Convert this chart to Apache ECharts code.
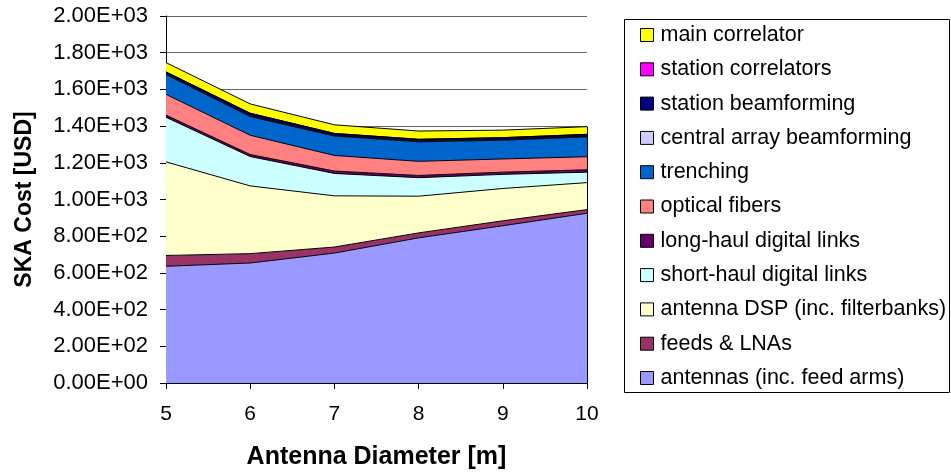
<!DOCTYPE html>
<html>
<head>
<meta charset="utf-8">
<script src="https://cdn.jsdelivr.net/npm/echarts@6.0.0/dist/echarts.min.js"></script>
<style>
  html, body { margin: 0; padding: 0; background: #fff; }
  #main { width: 951px; height: 475px; }
</style>
</head>
<body>
<div id="main"></div>
<script>
// antenna diameter [m]
const diameters = ['5', '6', '7', '8', '9', '10']

// cost components, bottom of the stack first
const antennas = [636, 654, 708, 791, 857, 925]
const feedsLnas = [59, 51, 33, 27, 27, 20]
const antennaDsp = [510, 369, 279, 200, 176, 147]
const shortHaul = [243, 160, 122, 101, 77, 57]
const longHaul = [12, 11, 13, 12, 12, 13]
const opticalFibers = [113, 105, 85, 77, 72, 71]
const trenching = [108, 102, 106, 106, 102, 108]
const centralBeamforming = [3, 3, 3, 3, 3, 3]
const stationBeamforming = [11, 15, 11, 11, 11, 11]
const stationCorrelators = [0, 0, 0, 0, 0, 0]
const mainCorrelator = [51, 51, 47, 45, 41, 42]

const seriesNames = [
  'antennas (inc. feed arms)',
  'feeds & LNAs',
  'antenna DSP (inc. filterbanks)',
  'short-haul digital links',
  'long-haul digital links',
  'optical fibers',
  'trenching',
  'central array beamforming',
  'station beamforming',
  'station correlators',
  'main correlator'
]
const seriesValues = [
  antennas, feedsLnas, antennaDsp, shortHaul, longHaul, opticalFibers,
  trenching, centralBeamforming, stationBeamforming, stationCorrelators, mainCorrelator
]
const seriesColors = [
  '#9999FF', '#993366', '#FFFFCC', '#CCFFFF', '#660066', '#FF8080',
  '#0066CC', '#CCCCFF', '#000080', '#FF00FF', '#FFFF00'
]

const font = 'Liberation Sans, Arial, sans-serif'

// Excel style 2.00E+03
function sci(v) {
  if (v === 0) return '0.00E+00'
  let e = Math.floor(Math.log10(Math.abs(v)))
  let m = v / Math.pow(10, e)
  return m.toFixed(2) + 'E' + (e < 0 ? '-' : '+') + String(Math.abs(e)).padStart(2, '0')
}

// total at the last diameter, for the closing edge of the stack
let last = diameters.length - 1
let lastTotal = 0
seriesValues.forEach(arr => { lastTotal += arr[last] })

let series = seriesNames.map((name, i) => ({
  name: name,
  type: 'line',
  stack: 'cost',
  data: seriesValues[i],
  symbol: 'none',
  showSymbol: false,
  color: seriesColors[i],
  itemStyle: { color: seriesColors[i] },
  lineStyle: { color: '#000', width: 1 },
  areaStyle: { color: seriesColors[i], opacity: 1 },
  emphasis: { disabled: true }
}))

series[series.length - 1].markLine = {
  silent: true,
  symbol: 'none',
  label: { show: false },
  lineStyle: { color: '#000', width: 1, type: 'solid' },
  data: [[{ coord: [diameters[last], 0] }, { coord: [diameters[last], lastTotal] }]]
}

let myChart = echarts.init(document.getElementById('main'), null, { renderer: 'canvas' })
let option = {
  animation: false,
  backgroundColor: '#fff',
  textStyle: { fontFamily: font, color: '#000' },
  grid: { left: 166, right: 364, top: 16, bottom: 88 },
  // legend frame, drawn separately so it can sit at the right edge
  graphic: [
    {
      type: 'rect',
      left: 622,
      top: 17,
      shape: { x: 0.5, y: 0.5, width: 325, height: 373 },
      style: { fill: 'none', stroke: '#000', lineWidth: 1 },
      silent: true,
      z: 0
    }
  ],
  legend: {
    orient: 'vertical',
    left: 640,
    top: 24,
    padding: 0,
    itemWidth: 13,
    itemHeight: 13,
    itemGap: 12.3,
    icon: 'rect',
    selectedMode: false,
    data: seriesNames.slice().reverse(),
    itemStyle: { borderColor: '#000', borderWidth: 1 },
    textStyle: { fontFamily: font, fontSize: 21.5, lineHeight: 21.5, color: '#000', padding: [0, 0, 0, 2] }
  },
  xAxis: {
    type: 'category',
    boundaryGap: false,
    data: diameters,
    name: 'Antenna Diameter [m]',
    nameLocation: 'middle',
    nameGap: 62,
    nameTextStyle: { fontFamily: font, fontSize: 25, fontWeight: 'bold', color: '#000' },
    axisLine: { lineStyle: { color: '#000', width: 1 } },
    axisTick: { show: true, inside: false, length: 6, lineStyle: { color: '#000' } },
    axisLabel: { fontFamily: font, fontSize: 21, color: '#000', margin: 21 },
    splitLine: { show: false }
  },
  yAxis: {
    type: 'value',
    min: 0,
    max: 2000,
    interval: 200,
    name: 'SKA Cost [USD]',
    nameLocation: 'middle',
    nameGap: 130,
    nameTextStyle: { fontFamily: font, fontSize: 23, fontWeight: 'bold', color: '#000' },
    axisLine: { show: true, lineStyle: { color: '#000', width: 1 } },
    axisTick: { show: true, length: 6, lineStyle: { color: '#000' } },
    axisLabel: { fontFamily: font, fontSize: 22, color: '#000', margin: 18, formatter: sci },
    splitLine: { show: true, lineStyle: { color: '#666', width: 1 } }
  },
  series: series
}
myChart.setOption(option)
</script>
</body>
</html>
